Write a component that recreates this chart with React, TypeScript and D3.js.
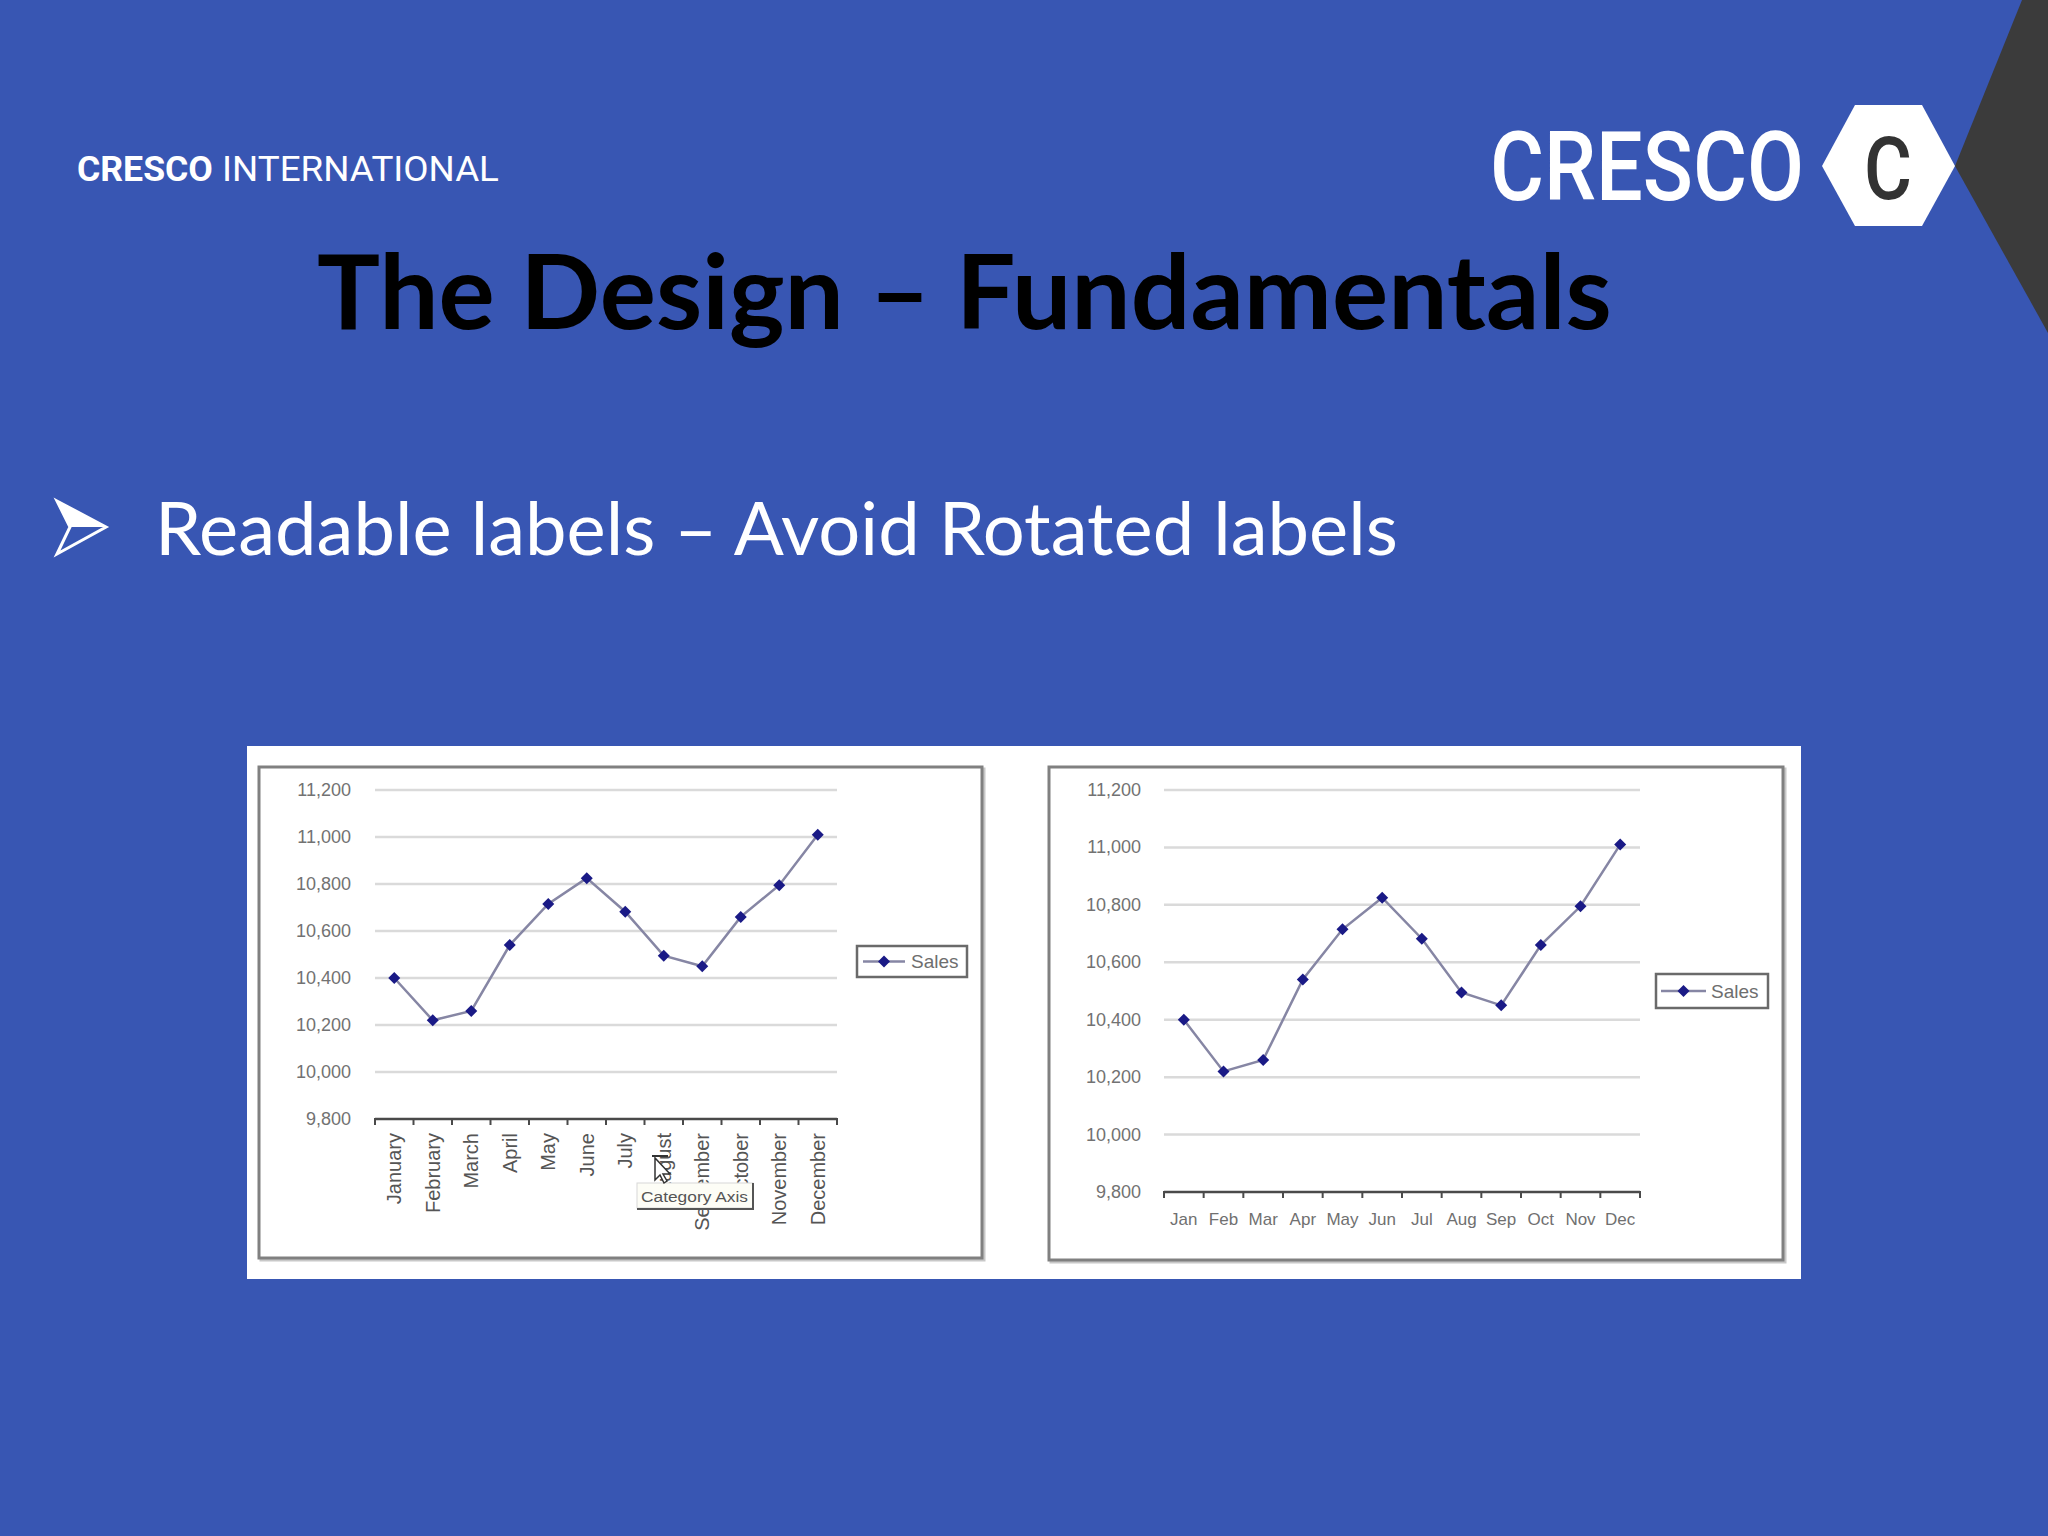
import React, { useLayoutEffect, useRef, useState } from "react";
import * as d3 from "d3";

const MONTHS_LONG = ["January", "February", "March", "April", "May", "June", "July", "August", "September", "October", "November", "December"];
const MONTHS_SHORT = ["Jan", "Feb", "Mar", "Apr", "May", "Jun", "Jul", "Aug", "Sep", "Oct", "Nov", "Dec"];
const SALES = [10400, 10220, 10260, 10540, 10715, 10825, 10682, 10495, 10450, 10660, 10795, 11010];
const Y_TICKS = [9800, 10000, 10200, 10400, 10600, 10800, 11000, 11200];
const SERIES_NAME = "Sales";

const BG = "#3856b3";
const LINE = "#8686a4";
const MARK = "#1a1a86";
const FONT = "'Liberation Sans', Arial, sans-serif";
const LOGO_FONT = "Roboto, 'DejaVu Sans', sans-serif";
const TITLE_FONT = "Lato, 'Open Sans', sans-serif";
const fmt = d3.format(",");

type FitProps = {
  x: number; y: number; width: number; children: string;
  fontFamily: string; fontSize: number; fontWeight?: number; fill: string;
};

function FitText({ x, y, width, children, fontFamily, fontSize, fontWeight = 400, fill }: FitProps) {
  const ref = useRef<SVGTextElement>(null);
  const [s, setS] = useState(1);
  useLayoutEffect(() => {
    const el = ref.current;
    if (!el) return;
    const w = el.getComputedTextLength();
    if (w > 0) setS(width / w);
  }, [width, children]);
  return (
    <text ref={ref} transform={`translate(${x},${y}) scale(${s},1)`} x={0} y={0} fontFamily={fontFamily} fontSize={fontSize} fontWeight={fontWeight} fill={fill}>
      {children}
    </text>
  );
}

type ChartProps = {
  frame: [number, number, number, number];
  x0: number; x1: number; yTop: number; yBot: number;
  labels: string[];
  rotated: boolean;
  labelX: number;
  monthY: number;
  monthSize: number;
  legend: [number, number, number, number];
  legendLine: [number, number];
  legendText: number;
};

function Diamond({ cx, cy, r }: { cx: number; cy: number; r: number }) {
  return <path d={`M${cx},${cy - r}L${cx + r},${cy}L${cx},${cy + r}L${cx - r},${cy}Z`} fill={MARK} />;
}

function Chart(p: ChartProps) {
  const x = d3.scaleBand<string>().domain(p.labels).range([p.x0, p.x1]);
  const y = d3.scaleLinear().domain([9800, 11200]).range([p.yBot, p.yTop]);
  const line = d3.line<number>().x((_, i) => (x(p.labels[i]) as number) + x.bandwidth() / 2).y((d) => y(d));
  const [fx, fy, fw, fh] = p.frame;
  const [lx, ly, lw, lh] = p.legend;
  const boundaries = d3.range(p.labels.length + 1).map((i) => p.x0 + i * x.step());
  return (
    <g>
      <rect x={fx + 2} y={fy + 2} width={fw} height={fh} fill="none" stroke="#c8c8c8" strokeWidth={3} />
      <rect x={fx} y={fy} width={fw} height={fh} fill="#fff" stroke="#808080" strokeWidth={3} />
      {Y_TICKS.map((t) => (
        <g key={t}>
          {t !== 9800 && <line x1={p.x0} x2={p.x1} y1={y(t)} y2={y(t)} stroke="#dadada" strokeWidth={2.5} />}
          <text x={p.labelX} y={y(t)} textAnchor="end" dominantBaseline="central" fontFamily={FONT} fontSize={18} fill="#727272">{fmt(t)}</text>
        </g>
      ))}
      <line x1={p.x0} x2={p.x1} y1={p.yBot} y2={p.yBot} stroke="#4a4a4a" strokeWidth={2.5} />
      {boundaries.map((b, i) => (
        <line key={i} x1={b} x2={b} y1={p.yBot - 1} y2={p.yBot + 6} stroke="#4a4a4a" strokeWidth={2} />
      ))}
      {p.labels.map((m) => {
        const cx = (x(m) as number) + x.bandwidth() / 2;
        return p.rotated ? (
          <text key={m} transform={`translate(${cx},${p.monthY}) rotate(-90)`} textAnchor="end" dominantBaseline="central" fontFamily={FONT} fontSize={p.monthSize} fill="#555">{m}</text>
        ) : (
          <text key={m} x={cx} y={p.monthY} textAnchor="middle" dominantBaseline="central" fontFamily={FONT} fontSize={p.monthSize} fill="#707070">{m}</text>
        );
      })}
      <path d={line(SALES) || ""} fill="none" stroke={LINE} strokeWidth={2.5} />
      {SALES.map((v, i) => (
        <Diamond key={i} cx={(x(p.labels[i]) as number) + x.bandwidth() / 2} cy={y(v)} r={6} />
      ))}
      <rect x={lx} y={ly} width={lw} height={lh} fill="#fff" stroke="#6a6a6a" strokeWidth={2.5} />
      <line x1={p.legendLine[0]} x2={p.legendLine[1]} y1={ly + lh / 2} y2={ly + lh / 2} stroke={LINE} strokeWidth={2.5} />
      <Diamond cx={(p.legendLine[0] + p.legendLine[1]) / 2} cy={ly + lh / 2} r={6} />
      <text x={p.legendText} y={ly + lh / 2} dominantBaseline="central" fontFamily={FONT} fontSize={19} fill="#6e6e6e">{SERIES_NAME}</text>
    </g>
  );
}

export default function App() {
  return (
    <svg width={2048} height={1536} style={{ position: "absolute", left: 0, top: 0 }} xmlns="http://www.w3.org/2000/svg">
      <rect width={2048} height={1536} fill={BG} />
      {/* dark corner */}
      <polygon points="2022,0 2048,0 2048,333 1955,166" fill="#3b3b3b" />
      {/* top-left brand */}
      <FitText x={77} y={181} width={136} fontFamily={LOGO_FONT} fontWeight={700} fontSize={36} fill="#fff">CRESCO</FitText>
      <FitText x={222} y={181} width={277} fontFamily={LOGO_FONT} fontWeight={400} fontSize={36} fill="#fff">INTERNATIONAL</FitText>
      {/* top-right logo */}
      <FitText x={1490} y={200} width={314} fontFamily={LOGO_FONT} fontWeight={500} fontSize={96} fill="#fff">CRESCO</FitText>
      <polygon points="1822,166 1855,105 1922,105 1955,166 1922,226 1855,226" fill="#fff" />
      <FitText x={1864} y={199} width={48} fontFamily={LOGO_FONT} fontWeight={500} fontSize={88} fill="#333">C</FitText>
      {/* title */}
      <FitText x={317} y={329} width={1295} fontFamily={TITLE_FONT} fontWeight={700} fontSize={104} fill="#000">The Design – Fundamentals</FitText>
      {/* bullet */}
      <path d="M57,501 L106,527 L57,554 L70,527 Z" fill="none" stroke="#fff" strokeWidth={3} strokeLinejoin="miter" />
      <path d="M57,501 L106,527 L70,527 Z" fill="#fff" />
      <FitText x={155} y={555} width={1243} fontFamily={TITLE_FONT} fontSize={74} fill="#fff">Readable labels – Avoid Rotated labels</FitText>
      {/* white panel */}
      <rect x={247} y={746} width={1554} height={533} fill="#fff" />
      <Chart frame={[259, 767, 723, 491]} x0={375} x1={837} yTop={790} yBot={1119} labels={MONTHS_LONG} rotated={true} labelX={351} monthY={1133} monthSize={20} legend={[857, 946, 110, 31]} legendLine={[863, 905]} legendText={911} />
      <Chart frame={[1049, 767, 734, 493]} x0={1164} x1={1640} yTop={790} yBot={1192} labels={MONTHS_SHORT} rotated={false} labelX={1141} monthY={1219} monthSize={17} legend={[1656, 974, 112, 34]} legendLine={[1661, 1706]} legendText={1711} />
      {/* tooltip over category axis */}
      <g>
        <rect x={637} y={1183} width={116} height={25} fill="#fdfdf6" stroke="#d8d8d8" strokeWidth={1} />
        <line x1={753} x2={753} y1={1183} y2={1210} stroke="#555" strokeWidth={2} />
        <line x1={637} x2={754} y1={1209} y2={1209} stroke="#555" strokeWidth={2} />
        <FitText x={641} y={1202} width={107} fontFamily={FONT} fontSize={15} fill="#555">Category Axis</FitText>
        <path d="M655,1158 L655,1180 L660,1175 L664,1183 L667,1181 L663,1174 L670,1174 Z" fill="#fff" stroke="#333" strokeWidth={1.5} />
        <line x1={652} x2={668} y1={1156} y2={1156} stroke="#333" strokeWidth={2} />
      </g>
    </svg>
  );
}
